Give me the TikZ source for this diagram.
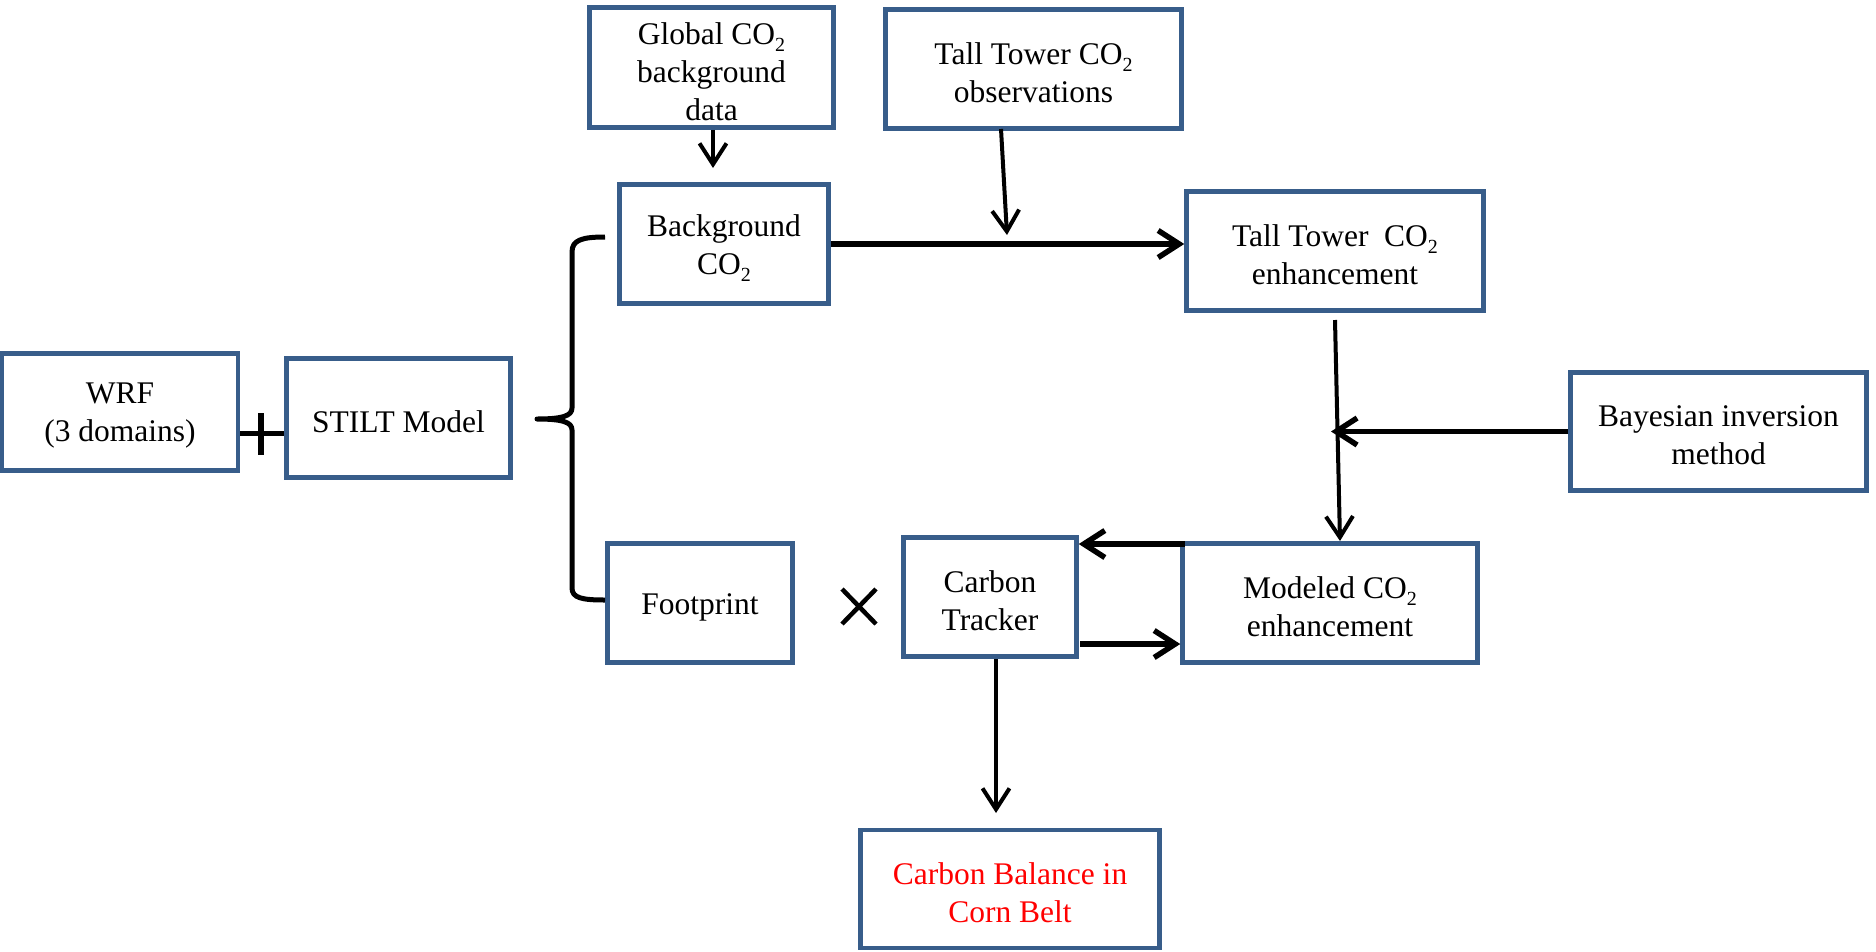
\documentclass[tikz,border=0pt]{standalone}
\usepackage{fontspec}
\setmainfont{Liberation Serif}
\usetikzlibrary{arrows.meta}
\definecolor{boxblue}{HTML}{385D8A}
\newcommand\cosub{CO\raisebox{-7pt}{\fontsize{20}{20}\selectfont 2}}
\begin{document}
\begin{tikzpicture}[x=1pt,y=-1pt,
  box/.style={draw=boxblue, line width=4.5pt, rectangle, inner sep=0pt},
  txt/.style={align=center, inner sep=0pt, yshift=-4pt, font=\fontsize{31.5}{38}\selectfont},
  conn/.style={line width=4pt, -{Straight Barb[length=21pt,width=27pt]}},
  thickconn/.style={conn, line width=5.5pt},
  plain/.style={line width=5pt, line join=round}]
\useasboundingbox (0,0) rectangle (1876,951);

% boxes
\node[box, minimum width=244pt, minimum height=120pt, label={[txt]center:{Global \cosub\\background\\data}}] (glob) at (711.5,67.5) {};
\node[box, minimum width=296pt, minimum height=119pt, label={[txt]center:{Tall Tower \cosub\\observations}}] (obs) at (1033.5,69) {};
\node[box, minimum width=209pt, minimum height=119pt, label={[txt]center:{Background\\\cosub}}] (bg) at (724,244) {};
\node[box, minimum width=297pt, minimum height=119pt, label={[txt]center:{Tall Tower~ \cosub\\enhancement}}] (enh) at (1335,251) {};
\node[box, minimum width=296pt, minimum height=118pt, label={[txt]center:{Bayesian inversion\\method}}] (bay) at (1718.5,431.5) {};
\node[box, minimum width=236pt, minimum height=117pt, label={[txt]center:{WRF\\(3 domains)}}] (wrf) at (120,412) {};
\node[box, minimum width=224pt, minimum height=119pt, label={[txt]center:{STILT Model}}] (stilt) at (398.5,418) {};
\node[box, minimum width=185pt, minimum height=119pt, label={[txt]center:{Footprint}}] (fp) at (700,603) {};
\node[box, minimum width=173pt, minimum height=119pt, label={[txt]center:{Carbon\\Tracker}}] (ct) at (990,597) {};
\node[box, minimum width=295pt, minimum height=119pt, label={[txt]center:{Modeled \cosub\\enhancement}}] (mod) at (1330,603) {};
\node[box, minimum width=299pt, minimum height=118pt, label={[txt, text=red]center:{Carbon Balance in\\Corn Belt}}] (cb) at (1010,889) {};

% helper coordinates
\coordinate (gtip) at (713,168);
\coordinate (ostart) at (1001,129);
\coordinate (otip) at (1007,235);
\coordinate (estart) at (1335,320);
\coordinate (etip) at (1340,541);
\coordinate (btip) at (1331,432);
\coordinate (mstart) at (1185,544);
\coordinate (cstart) at (1080,644);
\coordinate (cbtip) at (996,813);
\coordinate (plusy) at (0,433);

% connectors
\draw[conn] (glob.south -| gtip) -- (gtip);
\draw[thickconn] (bg.east) -- (bg.east -| enh.west);
\draw[conn] (ostart) -- (otip);
\draw[conn] (estart) -- (etip);
\draw[thickconn] (bay.west) -- (bay.west -| btip);
\draw[thickconn] (mstart) -- (mstart -| ct.east);
\draw[thickconn] (cstart) -- (cstart -| mod.west);
\draw[conn] (ct.south -| cbtip) -- (cbtip);

% plus sign
\draw[plain] (wrf.east |- plusy) -- (stilt.west |- plusy);
\draw[plain, line width=6pt] (261,413) -- (261,455);

% times sign
\draw[plain, line width=4.5pt] (842,589) -- (876,624) (842,624) -- (876,589);

% brace
\draw[plain] (605,237) .. controls (582,237) and (572,240) .. (572,252) -- (572,408)
  .. controls (572,416) and (562,419) .. (537,419)
  .. controls (562,419) and (572,422) .. (572,430) -- (572,588)
  .. controls (572,598) and (582,600) .. (605,600);
\end{tikzpicture}
\end{document}
